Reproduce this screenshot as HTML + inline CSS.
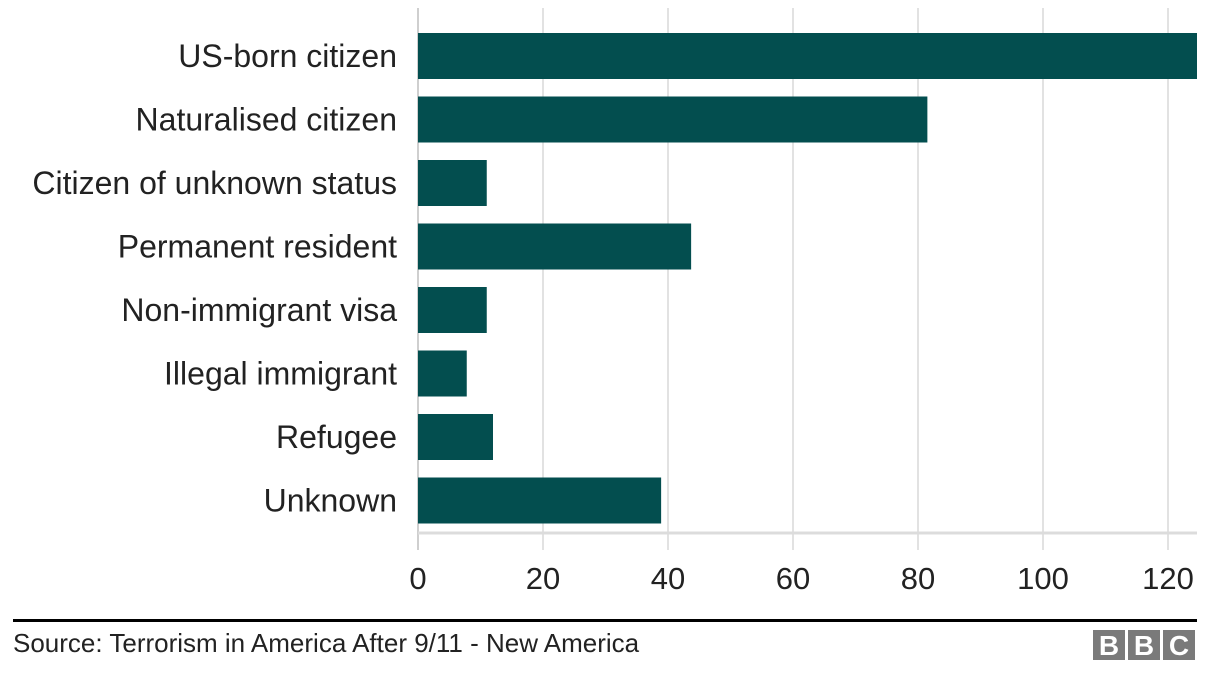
<!DOCTYPE html>
<html><head><meta charset="utf-8"><style>
body{margin:0;background:#fff;font-family:"Liberation Sans",Arial,sans-serif;}
#wrap{position:relative;width:1216px;height:678px;overflow:hidden}
</style></head><body>
<div id="wrap">
<svg id="chart" width="1216" height="678"></svg>
</div>
<script>
const categories=["US-born citizen","Naturalised citizen","Citizen of unknown status","Permanent resident","Non-immigrant visa","Illegal immigrant","Refugee","Unknown"];
const values=[125,81.5,11,43.7,11,7.8,12,38.9];
const ticks=[0,20,40,60,80,100,120];
const NS="http://www.w3.org/2000/svg";
const svg=document.getElementById('chart');
const x0=418,pxPer=6.25,rowTop=33,rowStep=63.5,barH=46;
const xs=v=>x0+v*pxPer;
function el(t,a,p){const e=document.createElementNS(NS,t);for(const k in a)e.setAttribute(k,a[k]);(p||svg).appendChild(e);return e;}
ticks.forEach(t=>{
 const g=el('line',{x1:xs(t),x2:xs(t),y1:8,y2:550,stroke:t===0?'#cfcfcf':'#e2e2e2','stroke-width':2});
 
 
 const tx=el('text',{x:xs(t),y:589,'text-anchor':'middle','font-size':31,fill:'#222'});
 tx.textContent=t;
 
 
});
const base=el('line',{x1:418,x2:1197,y1:533,y2:533,stroke:'#dcdcdc','stroke-width':3});


categories.forEach((c,i)=>{
 const y=rowTop+i*rowStep;
 const w=Math.min(xs(values[i]),1197)-x0;
 const r=el('rect',{x:x0,y:y,width:w,height:barH,fill:'#034e4f'});
 
 
 const t=el('text',{x:397,y:y+barH/2+11,'text-anchor':'end','font-size':32,fill:'#222'});
 t.textContent=c;
 
 
});
const rule=el('rect',{x:13,y:619,width:1184,height:3,fill:'#000'});


const src=el('text',{x:13,y:652,'font-size':26,fill:'#222'});
src.textContent='Source: Terrorism in America After 9/11 - New America';


['B','B','C'].forEach((l,i)=>{
 const bx=1093+i*35;
 const b=el('rect',{x:bx,y:630,width:32,height:30,fill:'#7a7a7a'});
 
 
 const t=el('text',{x:bx+16,y:655,'text-anchor':'middle','font-size':28,'font-weight':'bold',fill:'#fff'});
 t.textContent=l;
 
 
});
</script>
</body></html>
